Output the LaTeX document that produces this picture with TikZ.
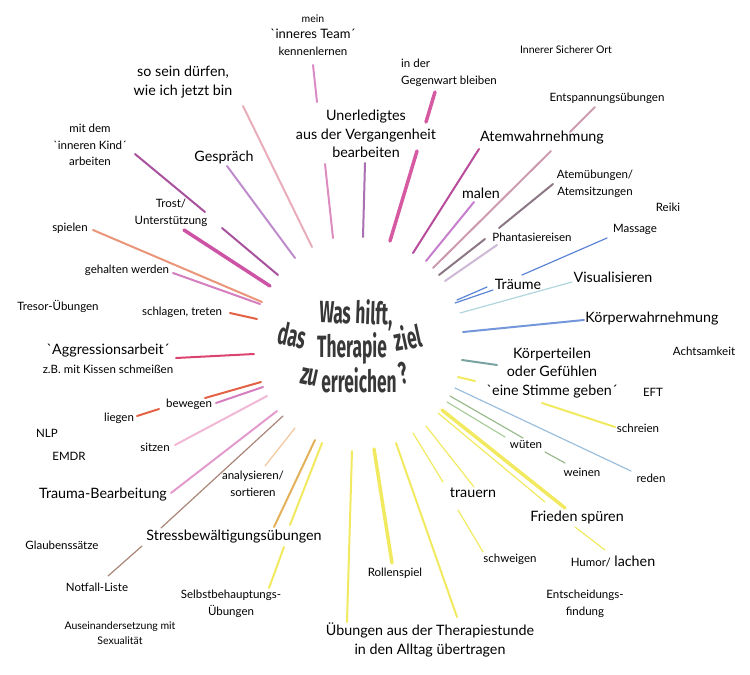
\documentclass[tikz,border=0pt]{standalone}
\usepackage{fontspec}
\setmainfont{Lato}
\newfontfamily\zielfont{Fira Sans}
\usepackage{tikz}
\usetikzlibrary{positioning}
\definecolor{rosa}{HTML}{D77FC0}
\definecolor{hellrosa}{HTML}{E6A4B4}
\definecolor{lila}{HTML}{9E3E92}
\definecolor{flieder}{HTML}{B77FC8}
\definecolor{magenta}{HTML}{C8409A}
\definecolor{lachs}{HTML}{E88A6A}
\definecolor{pinkmag}{HTML}{D070B8}
\definecolor{rotorange}{HTML}{E05030}
\definecolor{unrosa}{HTML}{D880B8}
\definecolor{unlila}{HTML}{A060A8}
\definecolor{pink}{HTML}{D04898}
\definecolor{atemlila}{HTML}{B03890}
\definecolor{mauve}{HTML}{C890A8}
\definecolor{malcol}{HTML}{C070C8}
\definecolor{graulila}{HTML}{806878}
\definecolor{phant}{HTML}{C8B0D0}
\definecolor{blau}{HTML}{4A78D0}
\definecolor{cyan}{HTML}{A8D0D8}
\definecolor{teal}{HTML}{6A9A98}
\definecolor{gelb}{HTML}{F0E850}
\definecolor{hellblau}{HTML}{90B8D8}
\definecolor{gruen}{HTML}{A0C890}
\definecolor{aggr}{HTML}{D83060}
\definecolor{hellpink}{HTML}{F0B0D0}
\definecolor{trauma}{HTML}{E090C8}
\definecolor{apricot}{HTML}{F0C090}
\definecolor{braun}{HTML}{A07868}
\definecolor{ocker}{HTML}{E0A848}
\definecolor{titelgrau}{HTML}{383838}
\newcommand{\gq}{\textasciigrave}
\newcommand{\ziel}[1]{\scalebox{0.62}[1.1]{\zielfont\bfseries\fontsize{28}{28}\selectfont #1}}

\begin{document}
\begin{tikzpicture}[x=1pt, y=-1pt,
		gross/.style={font=\fontsize{14.3}{18.5}\selectfont, align=center, inner sep=0pt},
		mittel/.style={font=\fontsize{11.5}{16.5}\selectfont, align=center, inner sep=0pt},
		klein/.style={font=\fontsize{10.5}{15}\selectfont, align=center, inner sep=0pt},
		titel/.style={text=titelgrau, anchor=base, inner sep=0pt},
		strich/.style={line width=2pt, line cap=round, opacity=.9},
		dick/.style={strich, line width=3.5pt},
		duenn/.style={strich, line width=1.2pt}]
		\useasboundingbox (0,0) rectangle (750,675);

		\node[titel, rotate=-2] (titel1) at (356,324) {\ziel{Was hilft,}};
		\node[titel, rotate=-12] (titel2a) at (290,346) {\ziel{das}};
		\node[titel] (titel2b) at (352,357) {\ziel{Therapie}};
		\node[titel, rotate=12] (titel2c) at (410,349) {\ziel{ziel}};
		\node[titel, rotate=-12] (titel3a) at (308,385) {\ziel{zu}};
		\node[titel] (titel3b) at (359,392) {\ziel{erreichen}};
		\node[titel, rotate=12] (titel3c) at (406,384) {\ziel{?}};

		\node[mittel] (team) at (313,35) {{\fontsize{10.5}{18}\selectfont mein}\\{\fontsize{13}{18}\selectfont\gq inneres Team´}\\kennenlernen};
		\coordinate (team1) at (313,65); \coordinate (team2) at (317,102);
		\draw[strich, rosa] (team1) -- (team2);

		\node[gross] (sosein) at (183,82) {so sein dürfen,\\wie ich jetzt bin};
		\coordinate (sosein1) at (243,106); \coordinate (sosein2) at (312,247);
		\draw[strich, hellrosa] (sosein1) -- (sosein2);

		\node[mittel] (kind) at (90,145) {mit dem\\\gq inneren Kind´\\arbeiten};
		\coordinate (kind1) at (135,154); \coordinate (kind2) at (205,212);
		\coordinate (kind3) at (222,228); \coordinate (kind4) at (278,275);
		\draw[strich, lila] (kind1) -- (kind2) (kind3) -- (kind4);

		\node[gross] (gespraech) at (224,157) {Gespräch};
		\coordinate (gespraech1) at (227,166); \coordinate (gespraech2) at (295,258);
		\draw[strich, flieder] (gespraech1) -- (gespraech2);

		\node[mittel] (trost) at (171,213) {Trost/\\Unterstützung};
		\coordinate (trost1) at (184,230); \coordinate (trost2) at (270,286);
		\draw[dick, magenta] (trost1) -- (trost2);

		\node[mittel] (spielen) at (70,228) {spielen};
		\coordinate (spielen1) at (93,230); \coordinate (spielen2) at (262,302);
		\draw[strich, lachs] (spielen1) -- (spielen2);

		\node[mittel] (gehalten) at (127,270) {gehalten werden};
		\coordinate (gehalten1) at (173,273); \coordinate (gehalten2) at (260,304);
		\draw[strich, pinkmag] (gehalten1) -- (gehalten2);

		\node[mittel] (tresor) at (58,306) {Tresor-Übungen};

		\node[mittel] (schlagen) at (182,312) {schlagen, treten};
		\coordinate (schlagen1) at (230,313); \coordinate (schlagen2) at (257,319);
		\draw[strich, rotorange] (schlagen1) -- (schlagen2);

		\node[gross] (unerledigt) at (366,134) {Unerledigtes\\aus der Vergangenheit\\bearbeiten};
		\coordinate (unerledigt1) at (325,164); \coordinate (unerledigt2) at (333,238);
		\coordinate (unerledigt3) at (365,163); \coordinate (unerledigt4) at (363,237);
		\draw[strich, unrosa] (unerledigt1) -- (unerledigt2);
		\draw[strich, unlila] (unerledigt3) -- (unerledigt4);

		\node[mittel, align=left, anchor=west] (gegenwart) at (401,73) {in der\\Gegenwart bleiben};
		\coordinate (gegenwart1) at (435,92); \coordinate (gegenwart2) at (426,122);
		\coordinate (gegenwart3) at (417,151); \coordinate (gegenwart4) at (390,241);
		\draw[dick, pink] (gegenwart1) -- (gegenwart2) (gegenwart3) -- (gegenwart4);

		\node[gross] (atemwahr) at (542,138) {Atemwahrnehmung};
		\coordinate (atemwahr1) at (479,149); \coordinate (atemwahr2) at (413,253);
		\draw[strich, atemlila] (atemwahr1) -- (atemwahr2);

		\node[klein] (ort) at (566,50) {Innerer Sicherer Ort};

		\node[mittel] (entspannung) at (607,98) {Entspannungsübungen};
		\coordinate (entspannung1) at (595,107); \coordinate (entspannung2) at (570,132);
		\coordinate (entspannung3) at (551,151); \coordinate (entspannung4) at (433,268);
		\draw[strich, mauve] (entspannung1) -- (entspannung2) (entspannung3) -- (entspannung4);

		\node[gross] (malen) at (481,193) {malen};
		\coordinate (malen1) at (474,202); \coordinate (malen2) at (426,261);
		\draw[strich, malcol] (malen1) -- (malen2);

		\node[mittel] (atemueb) at (595,184) {Atemübungen/\\Atemsitzungen};
		\coordinate (atemueb1) at (553,184); \coordinate (atemueb2) at (499,228);
		\coordinate (atemueb3) at (485,239); \coordinate (atemueb4) at (439,275);
		\draw[strich, graulila] (atemueb1) -- (atemueb2) (atemueb3) -- (atemueb4);

		\node[mittel] (reiki) at (668,207) {Reiki};

		\node[mittel] (phantasie) at (532,237) {Phantasiereisen};
		\coordinate (phantasie1) at (497,245); \coordinate (phantasie2) at (445,281);
		\draw[strich, phant] (phantasie1) -- (phantasie2);

		\node[mittel] (massage) at (635,229) {Massage};
		\coordinate (massage1) at (607,238); \coordinate (massage2) at (522,275);
		\draw[duenn, blau] (massage1) -- (massage2);

		\node[gross] (traeume) at (518,284) {Träume};
		\coordinate (traeume1) at (493,290); \coordinate (traeume2) at (455,303);
		\coordinate (traeume3) at (487,287); \coordinate (traeume4) at (457,300);
		\draw[duenn, blau] (traeume1) -- (traeume2) (traeume3) -- (traeume4);

		\node[gross] (visual) at (613,277) {Visualisieren};
		\coordinate (visual1) at (572,282); \coordinate (visual2) at (460,313);
		\draw[duenn, cyan] (visual1) -- (visual2);

		\node[gross] (koerperwahr) at (652,319) {Körperwahrnehmung};
		\coordinate (koerperwahr1) at (584,320); \coordinate (koerperwahr2) at (463,332);
		\draw[strich, blau!85] (koerperwahr1) -- (koerperwahr2);

		\node[mittel] (achtsam) at (704,351) {Achtsamkeit};

		\node[gross] (koerperteil) at (552,373) {Körperteilen\\oder Gefühlen\\\gq eine Stimme geben´};
		\coordinate (koerperteil1) at (462,360); \coordinate (koerperteil2) at (497,365);
		\coordinate (koerperteil3) at (458,377); \coordinate (koerperteil4) at (475,381);
		\draw[strich, teal] (koerperteil1) -- (koerperteil2);
		\draw[strich, gelb] (koerperteil3) -- (koerperteil4);

		\node[mittel] (eft) at (653,392) {EFT};

		\node[mittel] (schreien) at (638,428) {schreien};
		\coordinate (schreien1) at (542,403); \coordinate (schreien2) at (615,427);
		\draw[strich, gelb] (schreien1) -- (schreien2);

		\node[mittel] (reden) at (651,478) {reden};
		\coordinate (reden1) at (455,388); \coordinate (reden2) at (631,471);
		\draw[duenn, hellblau] (reden1) -- (reden2);

		\node[mittel] (wueten) at (526,445) {wüten};
		\coordinate (wueten1) at (447,402); \coordinate (wueten2) at (505,437);
		\draw[duenn, gruen] (wueten1) -- (wueten2);

		\node[mittel] (weinen) at (582,472) {weinen};
		\coordinate (weinen1) at (450,396); \coordinate (weinen2) at (523,438);
		\coordinate (weinen3) at (545,452); \coordinate (weinen4) at (565,463);
		\draw[duenn, gruen!90!black] (weinen1) -- (weinen2) (weinen3) -- (weinen4);

		\node[gross] (trauern) at (473,493) {trauern};
		\coordinate (trauern1) at (426,426); \coordinate (trauern2) at (474,487);
		\coordinate (trauern3) at (413,433); \coordinate (trauern4) at (443,482);
		\draw[duenn, gelb] (trauern1) -- (trauern2) (trauern3) -- (trauern4);

		\node[mittel] (schweigen) at (510,559) {schweigen};
		\coordinate (schweigen1) at (458,510); \coordinate (schweigen2) at (483,552);
		\draw[duenn, gelb] (schweigen1) -- (schweigen2);

		\node[gross] (frieden) at (577,517) {Frieden spüren};
		\coordinate (frieden1) at (442,410); \coordinate (frieden2) at (565,508);
		\coordinate (frieden3) at (438,413); \coordinate (frieden4) at (545,502);
		\draw[dick, gelb] (frieden1) -- (frieden2);
		\draw[duenn, gelb] (frieden3) -- (frieden4);

		\node[gross] (humor) at (613,561) {{\fontsize{11.5}{16}\selectfont Humor/} lachen};
		\coordinate (humor1) at (575,527); \coordinate (humor2) at (605,550);
		\draw[duenn, gelb] (humor1) -- (humor2);

		\node[mittel] (entscheidung) at (585,604) {Entscheidungs-\\findung};

		\node[gross] (alltag) at (430,640) {Übungen aus der Therapiestunde\\in den Alltag übertragen};
		\coordinate (alltag1) at (352,451); \coordinate (alltag2) at (347,622);
		\coordinate (alltag3) at (396,443); \coordinate (alltag4) at (457,617);
		\draw[strich, gelb] (alltag1) -- (alltag2) (alltag3) -- (alltag4);

		\node[mittel] (rollenspiel) at (395,573) {Rollenspiel};
		\coordinate (rollenspiel1) at (374,449); \coordinate (rollenspiel2) at (392,563);
		\draw[dick, gelb] (rollenspiel1) -- (rollenspiel2);

		\node[gross] (aggression) at (108,359) {\gq Aggressionsarbeit´\\{\fontsize{11.5}{16}\selectfont z.B. mit Kissen schmeißen}};
		\coordinate (aggression1) at (176,358); \coordinate (aggression2) at (254,354);
		\draw[strich, aggr] (aggression1) -- (aggression2);

		\node[mittel] (bewegen) at (189,404) {bewegen};
		\coordinate (bewegen1) at (205,398); \coordinate (bewegen2) at (261,382);
		\coordinate (bewegen3) at (216,403); \coordinate (bewegen4) at (263,387);
		\draw[strich, rotorange] (bewegen1) -- (bewegen2);
		\draw[strich, pinkmag] (bewegen3) -- (bewegen4);

		\node[mittel] (liegen) at (119,418) {liegen};
		\coordinate (liegen1) at (137,416); \coordinate (liegen2) at (159,409);
		\draw[strich, rotorange] (liegen1) -- (liegen2);

		\node[mittel] (nlp) at (47,433) {NLP};
		\node[mittel] (emdr) at (69,456) {EMDR};

		\node[mittel] (sitzen) at (155,447) {sitzen};
		\coordinate (sitzen1) at (175,445); \coordinate (sitzen2) at (267,396);
		\draw[strich, hellpink] (sitzen1) -- (sitzen2);

		\node[gross] (trauma) at (103,495) {Trauma-Bearbeitung};
		\coordinate (trauma1) at (171,493); \coordinate (trauma2) at (277,411);
		\draw[strich, trauma] (trauma1) -- (trauma2);

		\node[mittel] (analyse) at (253,484) {analysieren/\\sortieren};
		\coordinate (analyse1) at (265,466); \coordinate (analyse2) at (295,428);
		\draw[duenn, apricot] (analyse1) -- (analyse2);

		\node[gross] (stress) at (234,537) {Stressbewältigungsübungen};
		\coordinate (stress1) at (283,416); \coordinate (stress2) at (161,528);
		\coordinate (stress3) at (142,546); \coordinate (stress4) at (108,576);
		\coordinate (stress5) at (315,440); \coordinate (stress6) at (274,527);
		\coordinate (stress7) at (322,443); \coordinate (stress8) at (290,525);
		\draw[duenn, braun] (stress1) -- (stress2) (stress3) -- (stress4);
		\draw[strich, ocker] (stress5) -- (stress6);
		\draw[strich, gelb] (stress7) -- (stress8);

		\node[mittel] (glauben) at (62,545) {Glaubenssätze};
		\node[mittel] (notfall) at (97,587) {Notfall-Liste};

		\node[mittel] (selbst) at (231,604) {Selbstbehauptungs-\\Übungen};
		\coordinate (selbst1) at (284,547); \coordinate (selbst2) at (269,588);
		\draw[strich, gelb] (selbst1) -- (selbst2);

		\node[klein] (sexualitaet) at (120,633) {Auseinandersetzung mit\\Sexualität};
	\end{tikzpicture}
\end{document}
